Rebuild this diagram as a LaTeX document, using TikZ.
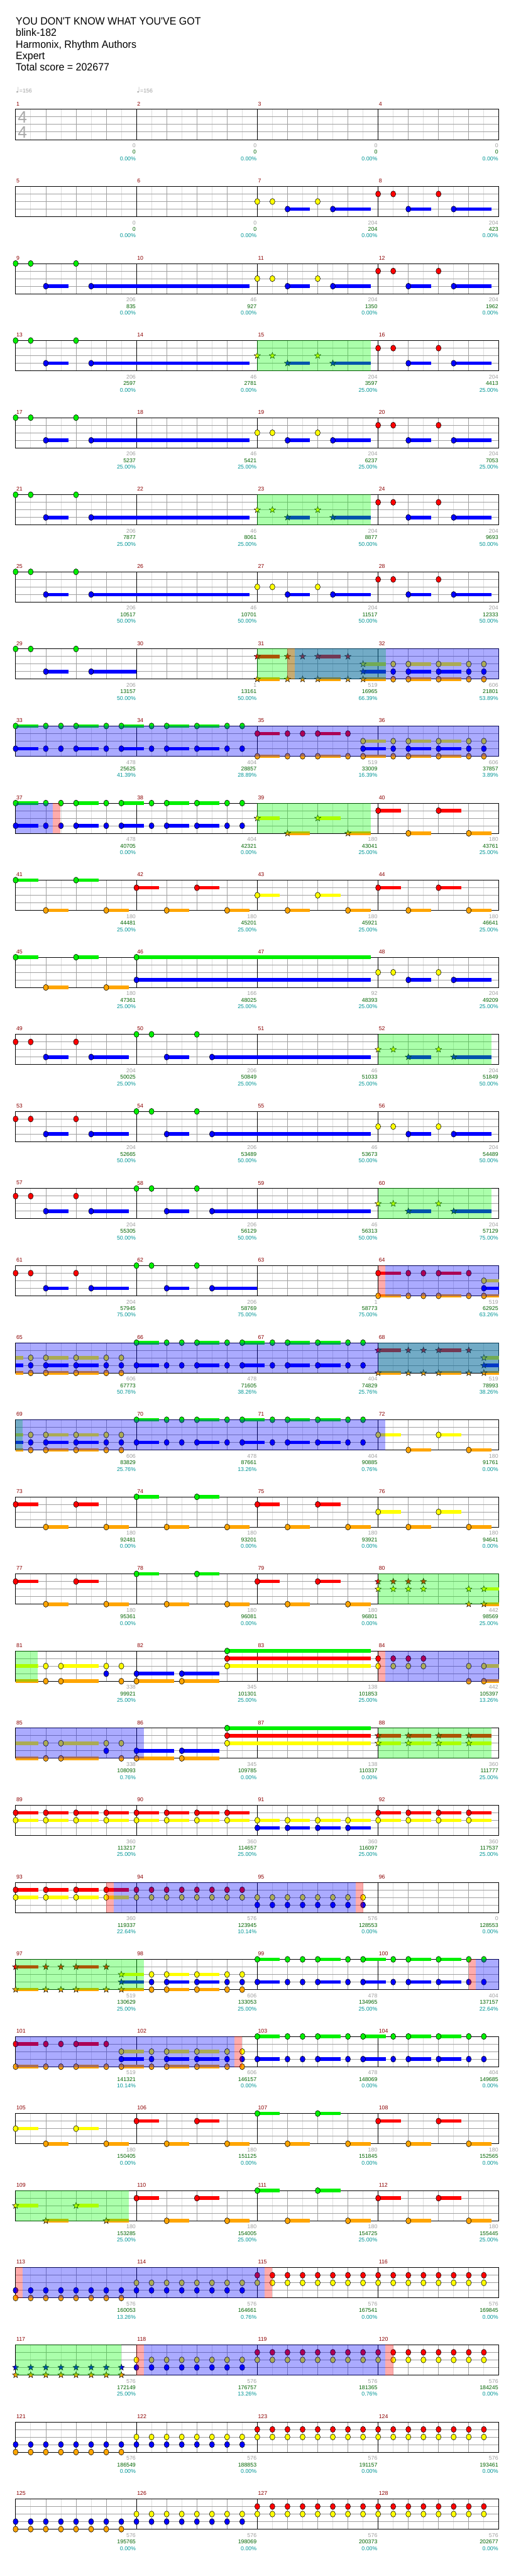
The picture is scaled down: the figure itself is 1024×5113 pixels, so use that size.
\documentclass[tikz,border=0pt]{standalone}
\usepackage{fontspec}
\setmainfont{Liberation Sans}
\newfontfamily\titlefont[FakeStretch=0.95,Ligatures=TeXOff]{Liberation Sans}
\newfontfamily\symfont{DejaVu Sans}

\definecolor{lane0}{RGB}{0,240,0}
\definecolor{lane1}{RGB}{255,0,0}
\definecolor{lane2}{RGB}{255,255,0}
\definecolor{lane3}{RGB}{0,0,255}
\definecolor{lane4}{RGB}{255,165,0}
\definecolor{gridlight}{RGB}{222,222,222}
\definecolor{gridmid}{RGB}{160,160,160}
\definecolor{barnum}{RGB}{140,0,0}
\definecolor{scoregray}{RGB}{160,160,160}
\definecolor{scoregreen}{RGB}{0,100,0}
\definecolor{scoreteal}{RGB}{0,150,150}
\definecolor{timesig}{RGB}{170,170,170}

\tikzset{
  lbl/.style={inner sep=0pt, font=\fontsize{11}{13}\selectfont},
  hdr/.style={anchor=base west, inner sep=0pt, font=\titlefont\fontsize{21}{25}\selectfont},
  head/.style={fill=lane#1, draw=black, line width=0.7pt},
  phrase/.style={fill=#1, fill opacity=0.33},
}

% one row of four bars: grid, bar numbers, scores under each bar
\newcommand\chartrow[2]{%
  \begin{scope}[shift={(31,217+153*#1)}]
    \foreach \k in {1,3,...,31} \draw[gridlight] (30*\k,0) -- (30*\k,60);
    \foreach \k in {1,2,3} \draw[gridmid] (0,15*\k) -- (960,15*\k);
    \foreach \k in {1,2,3,5,6,7,9,10,11,13,14,15} \draw[gridmid] (60*\k,0) -- (60*\k,60);
    \foreach \k in {4,8,12} \draw (60*\k,0) -- (60*\k,60);
    \draw (0,0) rectangle (960,60);
    \foreach \g/\c/\p [count=\i from 0] in {#2}{
      \pgfmathtruncatemacro\mnum{4*#1+\i+1}
      \node[lbl, barnum, anchor=west] (m\mnum) at (240*\i+1,-11) {\mnum};
      \node[lbl, scoregray, anchor=east] (s\mnum) at (240*\i+239,72) {\g};
      \node[lbl, scoregreen, anchor=east] (c\mnum) at (240*\i+239,85) {\c};
      \node[lbl, scoreteal, anchor=east] (p\mnum) at (240*\i+239,98) {\p\%};
    }
  \end{scope}}

% notes: beat/lanes/end of sustain (0 = none)
\newcommand\notes[2]{%
  \edef\nlist{#2}%
  \begin{scope}[shift={(31,217+153*#1)}]
    \foreach \bt/\ls/\en in \nlist {
      \foreach \ln in \ls {
        \ifdim\en pt>0pt \fill[lane\ln] (60*\bt,15*\ln-3.5) rectangle (60*\en,15*\ln+3.5);\fi
        \filldraw[head=\ln] (60*\bt,15*\ln) ellipse [x radius=5pt, y radius=6pt];
      }}
  \end{scope}}

\newcommand\starnotes[2]{%
  \edef\nlist{#2}%
  \begin{scope}[shift={(31,217+153*#1)}]
    \foreach \bt/\ls/\en in \nlist {
      \foreach \ln in \ls {
        \ifdim\en pt>0pt \fill[lane\ln] (60*\bt,15*\ln-3.5) rectangle (60*\en,15*\ln+3.5);\fi
        \filldraw[head=\ln, line width=0.6pt, shift={(60*\bt,15*\ln)}] (90:6.5pt) -- (126:2.7pt) -- (162:6.5pt) -- (198:2.7pt) -- (234:6.5pt) -- (270:2.7pt) -- (306:6.5pt) -- (342:2.7pt) -- (18:6.5pt) -- (54:2.7pt) -- cycle;
      }}
  \end{scope}}

% sustain carried over from the row above
\newcommand\tails[2]{%
  \edef\nlist{#2}%
  \begin{scope}[shift={(31,217+153*#1)}]
    \foreach \bt/\ls/\en in \nlist {
      \foreach \ln in \ls
        \fill[lane\ln] (60*\bt,15*\ln-3.5) rectangle (60*\en,15*\ln+3.5);
    }
  \end{scope}}

\newcommand\eighths[4]{%
  \begin{scope}[shift={(31,217+153*#1)}]
    \foreach \k in {#2,...,#3} \foreach \ln in {#4}
      \filldraw[head=\ln] (30*\k,15*\ln) ellipse [x radius=5pt, y radius=6pt];
  \end{scope}}

\newcommand\eighthstars[4]{%
  \begin{scope}[shift={(31,217+153*#1)}]
    \foreach \k in {#2,...,#3} \foreach \ln in {#4}
      \filldraw[head=\ln, line width=0.6pt, shift={(30*\k,15*\ln)}] (90:6.5pt) -- (126:2.7pt) -- (162:6.5pt) -- (198:2.7pt) -- (234:6.5pt) -- (270:2.7pt) -- (306:6.5pt) -- (342:2.7pt) -- (18:6.5pt) -- (54:2.7pt) -- cycle;
  \end{scope}}

% star power phrase / activation: row, from beat, to beat, colour
\newcommand\spzone[4]{\fill[phrase=#4] (31+60*#2,216.5+153*#1) rectangle (31+60*#3,277.5+153*#1);}

\def\introG{0/0/0, 0.5/0/0, 2/0/0, 1/3/1.75, 2.5/3/7.75}
\def\riffY{8/2/0, 8.5/2/0, 10/2/0, 9/3/9.75, 10.5/3/11.75}
\def\riffR{12/1/0, 12.5/1/0, 14/1/0, 13/3/13.75, 14.5/3/15.75}
\def\riffRG{0/1/0, 0.5/1/0, 2/1/0, 1/3/1.75, 2.5/3/3.75, 4/0/0, 4.5/0/0, 6/0/0, 5/3/5.75}
\def\riffYend{12/2/0, 12.5/2/0, 14/2/0, 13/3/13.75, 14.5/3/15.75}
\def\gbZero{0/{0,3}/0.75, 1/{0,3}/0, 1.5/{0,3}/0, 2/{0,3}/2.75, 3/{0,3}/0, 3.5/{0,3}/4.25, 4.5/{0,3}/0, 5/{0,3}/5.75, 6/{0,3}/6.75, 7/{0,3}/0, 7.5/{0,3}/0}
\def\gbFour{4/{0,3}/4.75, 5/{0,3}/0, 5.5/{0,3}/0, 6/{0,3}/6.75, 7/{0,3}/0, 7.5/{0,3}/8.25, 8.5/{0,3}/0, 9/{0,3}/9.75, 10/{0,3}/10.75, 11/{0,3}/0, 11.5/{0,3}/0}
\def\gbEight{8/{0,3}/8.75, 9/{0,3}/0, 9.5/{0,3}/0, 10/{0,3}/10.75, 11/{0,3}/0, 11.5/{0,3}/12.25, 12.5/{0,3}/0, 13/{0,3}/13.75, 14/{0,3}/14.75, 15/{0,3}/0, 15.5/{0,3}/0}
\def\roZero{0/{1,4}/0.75, 1/{1,4}/0, 1.5/{1,4}/0, 2/{1,4}/2.75, 3/{1,4}/0, 3.5/{2,3,4}/4.25}
\def\roEight{8/{1,4}/8.75, 9/{1,4}/0, 9.5/{1,4}/0, 10/{1,4}/10.75, 11/{1,4}/0, 11.5/{2,3,4}/12.25}
\def\roTwelve{12/{1,4}/12.75, 13/{1,4}/0, 13.5/{1,4}/0, 14/{1,4}/14.75, 15/{1,4}/0, 15.5/{2,3,4}/16}
\def\yboZero{0.5/{2,3,4}/0, 1/{2,3,4}/1.75, 2/{2,3,4}/2.75, 3/{2,3,4}/0, 3.5/{2,3,4}/0}
\def\yboFour{4.5/{2,3,4}/0, 5/{2,3,4}/5.75, 6/{2,3,4}/6.75, 7/{2,3,4}/0, 7.5/{2,3,4}/0}
\def\yboTwelve{12.5/{2,3,4}/0, 13/{2,3,4}/13.75, 14/{2,3,4}/14.75, 15/{2,3,4}/0, 15.5/{2,3,4}/0}
\def\chordsA{0/{2,4}/0.75}
\def\riffB{1/{2,4}/0, 1.5/{2,4}/2.75, 3/{2,3}/0, 3.5/{2,4}/0, 4/{3,4}/5.25, 5.5/{3,4}/6.75, 7/{0,1,2}/11.75}

\begin{document}
\begin{tikzpicture}[x=1pt, y=-1pt, line width=1pt]
\fill[white] (0,0) rectangle (1024,5113);
\useasboundingbox (0,0) rectangle (1024,5113);

\node[hdr] (title) at (31,49) {YOU DON'T KNOW WHAT YOU'VE GOT};
\node[hdr] (artist) at (31,72) {blink-182};
\node[hdr] (charter) at (31,95) {Harmonix, Rhythm Authors};
\node[hdr] (level) at (31,118) {Expert};
\node[hdr] (total) at (31,141) {Total score = 202677};
\node[anchor=base west, inner sep=0pt, scoregray, font=\fontsize{11}{13}\selectfont] (tempoA) at (31,184) {{\symfont\fontsize{15}{15}\selectfont ♩}=156};
\node[anchor=base west, inner sep=0pt, scoregray, font=\fontsize{11}{13}\selectfont] (tempoB) at (271,184) {{\symfont\fontsize{15}{15}\selectfont ♩}=156};

\chartrow{0}{0/0/0.00, 0/0/0.00, 0/0/0.00, 0/0/0.00}
\chartrow{1}{0/0/0.00, 0/0/0.00, 204/204/0.00, 204/423/0.00}
\chartrow{2}{206/835/0.00, 46/927/0.00, 204/1350/0.00, 204/1962/0.00}
\chartrow{3}{206/2597/0.00, 46/2781/0.00, 204/3597/25.00, 204/4413/25.00}
\chartrow{4}{206/5237/25.00, 46/5421/25.00, 204/6237/25.00, 204/7053/25.00}
\chartrow{5}{206/7877/25.00, 46/8061/25.00, 204/8877/50.00, 204/9693/50.00}
\chartrow{6}{206/10517/50.00, 46/10701/50.00, 204/11517/50.00, 204/12333/50.00}
\chartrow{7}{206/13157/50.00, 1/13161/50.00, 519/16965/66.39, 606/21801/53.89}
\chartrow{8}{478/25625/41.39, 404/28857/28.89, 519/33009/16.39, 606/37857/3.89}
\chartrow{9}{478/40705/0.00, 404/42321/0.00, 180/43041/25.00, 180/43761/25.00}
\chartrow{10}{180/44481/25.00, 180/45201/25.00, 180/45921/25.00, 180/46641/25.00}
\chartrow{11}{180/47361/25.00, 166/48025/25.00, 92/48393/25.00, 204/49209/25.00}
\chartrow{12}{204/50025/25.00, 206/50849/25.00, 46/51033/25.00, 204/51849/50.00}
\chartrow{13}{204/52665/50.00, 206/53489/50.00, 46/53673/50.00, 204/54489/50.00}
\chartrow{14}{204/55305/50.00, 206/56129/50.00, 46/56313/50.00, 204/57129/75.00}
\chartrow{15}{204/57945/75.00, 206/58769/75.00, 1/58773/75.00, 519/62925/63.26}
\chartrow{16}{606/67773/50.76, 478/71605/38.26, 404/74829/25.76, 519/78993/38.26}
\chartrow{17}{606/83829/25.76, 478/87661/13.26, 404/90885/0.76, 180/91761/0.00}
\chartrow{18}{180/92481/0.00, 180/93201/0.00, 180/93921/0.00, 180/94641/0.00}
\chartrow{19}{180/95361/0.00, 180/96081/0.00, 180/96801/0.00, 442/98569/25.00}
\chartrow{20}{338/99921/25.00, 345/101301/25.00, 138/101853/25.00, 442/105397/13.26}
\chartrow{21}{338/108093/0.76, 345/109785/0.00, 138/110337/0.00, 360/111777/25.00}
\chartrow{22}{360/113217/25.00, 360/114657/25.00, 360/116097/25.00, 360/117537/25.00}
\chartrow{23}{360/119337/22.64, 576/123945/10.14, 576/128553/0.00, 0/128553/0.00}
\chartrow{24}{519/130629/25.00, 606/133053/25.00, 478/134965/25.00, 404/137157/22.64}
\chartrow{25}{519/141321/10.14, 606/146157/0.00, 478/148069/0.00, 404/149685/0.00}
\chartrow{26}{180/150405/0.00, 180/151125/0.00, 180/151845/0.00, 180/152565/0.00}
\chartrow{27}{180/153285/25.00, 180/154005/25.00, 180/154725/25.00, 180/155445/25.00}
\chartrow{28}{576/160053/13.26, 576/164661/0.76, 576/167541/0.00, 576/169845/0.00}
\chartrow{29}{576/172149/25.00, 576/176757/13.26, 576/181365/0.76, 576/184245/0.00}
\chartrow{30}{576/186549/0.00, 576/188853/0.00, 576/191157/0.00, 576/193461/0.00}
\chartrow{31}{576/195765/0.00, 576/198069/0.00, 576/200373/0.00, 576/202677/0.00}

\node[inner sep=0pt, timesig, font=\fontsize{33}{33}\selectfont] (tsTop) at (44.5,233) {4};
\node[inner sep=0pt, timesig, font=\fontsize{33}{33}\selectfont] (tsBot) at (44.5,263) {4};

\notes{1}{\riffY, \riffR}
\notes{2}{\introG, \riffY, \riffR}
\notes{3}{\introG, \riffR}
\starnotes{3}{\riffY}
\notes{4}{\introG, \riffY, \riffR}
\notes{5}{\introG, \riffR}
\starnotes{5}{\riffY}
\notes{6}{\introG, \riffY, \riffR}
\notes{7}{0/0/0, 0.5/0/0, 2/0/0, 1/3/1.75, 2.5/3/4, \yboTwelve}
\starnotes{7}{\roEight}
\notes{8}{\gbZero, \roEight, \yboTwelve}
\notes{9}{\gbZero, 12/1/12.75, 14/1/14.75, 13/4/13.75, 15/4/15.75}
\starnotes{9}{8/2/8.75, 10/2/10.75, 9/4/9.75, 11/4/11.75}
\notes{10}{0/0/0.75, 2/0/2.75, 1/4/1.75, 3/4/3.75, 4/1/4.75, 6/1/6.75, 5/4/5.75, 7/4/7.75, 8/2/8.75, 10/2/10.75, 9/4/9.75, 11/4/11.75, 12/1/12.75, 14/1/14.75, 13/4/13.75, 15/4/15.75}
\notes{11}{0/0/0.75, 2/0/2.75, 1/4/1.75, 3/4/3.75, 4/{0,3}/11.75, \riffYend}
\notes{12}{\riffRG, 6.5/3/11.75}
\starnotes{12}{\riffYend}
\notes{13}{\riffRG, 6.5/3/11.75, \riffYend}
\notes{14}{\riffRG, 6.5/3/11.75}
\starnotes{14}{\riffYend}
\notes{15}{\riffRG, 6.5/3/8, \roTwelve}
\tails{16}{0/{2,3,4}/0.25}
\notes{16}{\yboZero, \gbFour}
\starnotes{16}{\roTwelve}
\tails{17}{0/{2,3,4}/0.25}
\notes{17}{\yboZero, \gbFour, 12/2/12.75, 14/2/14.75, 13/4/13.75, 15/4/15.75}
\notes{18}{0/1/0.75, 2/1/2.75, 1/4/1.75, 3/4/3.75, 4/0/4.75, 6/0/6.75, 5/4/5.75, 7/4/7.75, 8/1/8.75, 10/1/10.75, 9/4/9.75, 11/4/11.75, 12/2/12.75, 14/2/14.75, 13/4/13.75, 15/4/15.75}
\notes{19}{0/1/0.75, 2/1/2.75, 1/4/1.75, 3/4/3.75, 4/0/4.75, 6/0/6.75, 5/4/5.75, 7/4/7.75, 8/1/8.75, 10/1/10.75, 9/4/9.75, 11/4/11.75}
\starnotes{19}{12/{1,2}/0, 12.5/{1,2}/0, 13/{1,2}/0, 13.5/{1,2}/0, 15/{2,4}/0, 15.5/{2,4}/16}
\tails{20}{\chordsA}
\notes{20}{\riffB, 12/{1,2}/0, 12.5/{1,2}/0, 13/{1,2}/0, 13.5/{1,2}/0, 15/{2,4}/0, 15.5/{2,4}/16}
\tails{21}{\chordsA}
\notes{21}{\riffB}
\starnotes{21}{12/{1,2}/12.75, 13/{1,2}/13.75, 14/{1,2}/14.75, 15/{1,2}/15.75}
\notes{22}{0/{1,2}/0.75, 1/{1,2}/1.75, 2/{1,2}/2.75, 3/{1,2}/3.75, 4/{1,2}/4.75, 5/{1,2}/5.75, 6/{1,2}/6.75, 7/{1,2}/7.75, 8/{2,3}/8.75, 9/{2,3}/9.75, 10/{2,3}/10.75, 11/{2,3}/11.75, 12/{1,2}/12.75, 13/{1,2}/13.75, 14/{1,2}/14.75, 15/{1,2}/15.75}
\notes{23}{0/{1,2}/0.75, 1/{1,2}/1.75, 2/{1,2}/2.75, 3/{1,2}/3.75}
\eighths{23}{8}{15}{1,2}
\eighths{23}{16}{23}{2,3}
\starnotes{24}{\roZero}
\notes{24}{\yboFour, \gbEight}
\notes{25}{\roZero, \yboFour, \gbEight}
\notes{26}{0/2/0.75, 2/2/2.75, 1/4/1.75, 3/4/3.75, 4/1/4.75, 6/1/6.75, 5/4/5.75, 7/4/7.75, 8/0/8.75, 10/0/10.75, 9/4/9.75, 11/4/11.75, 12/1/12.75, 14/1/14.75, 13/4/13.75, 15/4/15.75}
\starnotes{27}{0/2/0.75, 2/2/2.75, 1/4/1.75, 3/4/3.75}
\notes{27}{4/1/4.75, 6/1/6.75, 5/4/5.75, 7/4/7.75, 8/0/8.75, 10/0/10.75, 9/4/9.75, 11/4/11.75, 12/1/12.75, 14/1/14.75, 13/4/13.75, 15/4/15.75}
\eighths{28}{0}{7}{3,4}
\eighths{28}{8}{15}{2,3}
\eighths{28}{16}{31}{1,2}
\eighthstars{29}{0}{7}{3,4}
\eighths{29}{8}{15}{2,3}
\eighths{29}{16}{31}{1,2}
\eighths{30}{0}{7}{3,4}
\eighths{30}{8}{15}{2,3}
\eighths{30}{16}{31}{1,2}
\eighths{31}{0}{7}{3,4}
\eighths{31}{8}{15}{2,3}
\eighths{31}{16}{31}{1,2}

\spzone{3}{8}{11.76}{green}
\spzone{5}{8}{11.76}{green}
\spzone{7}{8}{12.25}{green}
\spzone{7}{9}{9.24}{red}
\spzone{7}{9.24}{16}{blue}
\spzone{8}{0}{16}{blue}
\spzone{9}{0}{1.23}{blue}
\spzone{9}{1.23}{1.49}{red}
\spzone{9}{8}{11.76}{green}
\spzone{12}{12}{15.76}{green}
\spzone{14}{12}{15.76}{green}
\spzone{15}{12}{12.24}{red}
\spzone{15}{12.24}{16}{blue}
\spzone{16}{12}{16}{green}
\spzone{16}{0}{16}{blue}
\spzone{17}{0}{0.24}{green}
\spzone{17}{0}{12.24}{blue}
\spzone{19}{12}{16}{green}
\spzone{20}{0}{0.74}{green}
\spzone{20}{12}{12.24}{red}
\spzone{20}{12.24}{16}{blue}
\spzone{21}{0}{4.25}{blue}
\spzone{21}{12}{15.76}{green}
\spzone{23}{3}{3.24}{red}
\spzone{23}{3.24}{11.25}{blue}
\spzone{23}{11.25}{11.5}{red}
\spzone{24}{0}{4.25}{green}
\spzone{24}{15}{15.24}{red}
\spzone{24}{15.24}{16}{blue}
\spzone{25}{0}{7.24}{blue}
\spzone{25}{7.24}{7.5}{red}
\spzone{27}{0}{3.75}{green}
\spzone{28}{0}{0.24}{red}
\spzone{28}{0.24}{8.24}{blue}
\spzone{28}{8.24}{8.5}{red}
\spzone{29}{0}{3.5}{green}
\spzone{29}{4}{4.24}{red}
\spzone{29}{4.24}{12.24}{blue}
\spzone{29}{12.24}{12.5}{red}
\end{tikzpicture}
\end{document}
